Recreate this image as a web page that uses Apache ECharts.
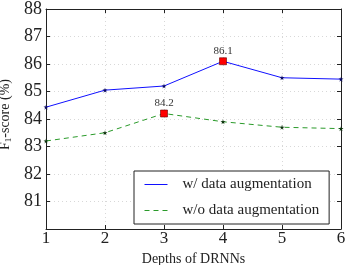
<!DOCTYPE html>
<html><head><meta charset="utf-8">
<script src="https://cdn.jsdelivr.net/npm/echarts@6/dist/echarts.min.js"></script>
<style>html,body{margin:0;padding:0;background:#fff}#c{width:349px;height:265px}</style>
</head><body><div id="c"></div>
<script>
const depths = [1, 2, 3, 4, 5, 6];
const withAug = [84.43, 85.05, 85.2, 86.1, 85.5, 85.45];
const withoutAug = [83.2, 83.5, 84.2, 83.9, 83.7, 83.65];
const seriesNames = ['w/ data augmentation', 'w/o data augmentation'];
const peakIdxWith = 3, peakIdxWithout = 2;
const yTicks = [80, 81, 82, 83, 84, 85, 86, 87, 88];

const FONT = 'Liberation Serif';
const star = 'path://M50,0 L61,35 L98,35 L68,57 L79,91 L50,70 L21,91 L32,57 L2,35 L39,35 Z';

function build(vals, peak) {
  return vals.map((v, i) => {
    if (i === peak) {
      return {
        value: [depths[i], v], symbol: 'rect', symbolSize: 7,
        itemStyle: {color: '#ff0000', borderColor: '#660000', borderWidth: 0.6},
        label: {show: true, position: 'top', distance: 1, formatter: v.toFixed(1),
                fontFamily: FONT, fontSize: 11, color: '#333'}
      };
    }
    return [depths[i], v];
  });
}

const chart = echarts.init(document.getElementById('c'));
const gridLine = {show: true, lineStyle: {color: '#d8d8d8', type: [1, 3], width: 1}};
const axisLine = {show: true, lineStyle: {color: '#222', width: 1}};
const tick = {show: true, inside: true, length: 4, lineStyle: {color: '#222'}};
chart.setOption({
  animation: false,
  grid: {left: 46, right: 8, top: 9, bottom: 36, containLabel: false, outerBoundsMode: 'none'},
  xAxis: [{
    type: 'value', min: 1, max: 6, interval: 1,
    name: 'Depths of DRNNs', nameLocation: 'middle', nameGap: 10,
    nameTextStyle: {fontFamily: FONT, fontSize: 14, color: '#222'},
    axisLine: axisLine, axisTick: tick, splitLine: gridLine,
    axisLabel: {fontFamily: FONT, fontSize: 17, color: '#222', margin: 1}
  }, {
    type: 'value', min: 1, max: 6, interval: 1, position: 'top',
    axisLine: axisLine, axisTick: tick, axisLabel: {show: false}, splitLine: {show: false}
  }],
  yAxis: [{
    type: 'value', min: 80, max: 88, interval: 1,
    name: 'F{sub|1}-score (%)', nameLocation: 'middle', nameGap: 28,
    nameTextStyle: {fontFamily: FONT, fontSize: 14, color: '#222', padding: [0, 0, 0, 9],
      rich: {sub: {fontFamily: FONT, fontSize: 9, color: '#222', verticalAlign: 'bottom', padding: [6, 0, 0, 0]}}},
    axisLine: axisLine, axisTick: tick, splitLine: gridLine,
    axisLabel: {fontFamily: FONT, fontSize: 18, color: '#222', margin: 4,
      formatter: v => (v === yTicks[0] ? '' : String(v))}
  }, {
    type: 'value', min: 80, max: 88, interval: 1, position: 'right',
    axisLine: axisLine, axisTick: tick, axisLabel: {show: false}, splitLine: {show: false}
  }],
  legend: {
    left: 134, top: 171, orient: 'vertical',
    padding: [6, 10, 6, 10], itemGap: 11, itemWidth: 23, itemHeight: 14,
    borderColor: '#222', borderWidth: 1, backgroundColor: '#fff',
    textStyle: {fontFamily: FONT, fontSize: 15, color: '#222', padding: [0, 0, 0, 10]},
    itemStyle: {opacity: 0},
    lineStyle: {width: 1},
    data: seriesNames
  },
  series: [{
    name: seriesNames[0], type: 'line', data: build(withAug, peakIdxWith),
    symbol: star, symbolSize: 5,
    lineStyle: {color: '#1010ff', width: 1},
    itemStyle: {color: '#0a0a60'}, color: '#1010ff', z: 3
  }, {
    name: seriesNames[1], type: 'line', data: build(withoutAug, peakIdxWithout),
    symbol: star, symbolSize: 5,
    lineStyle: {color: '#2a9a2a', width: 1, type: [5, 4]},
    itemStyle: {color: '#0a300a'}, color: '#2a9a2a', z: 3
  }]
});
</script></body></html>
